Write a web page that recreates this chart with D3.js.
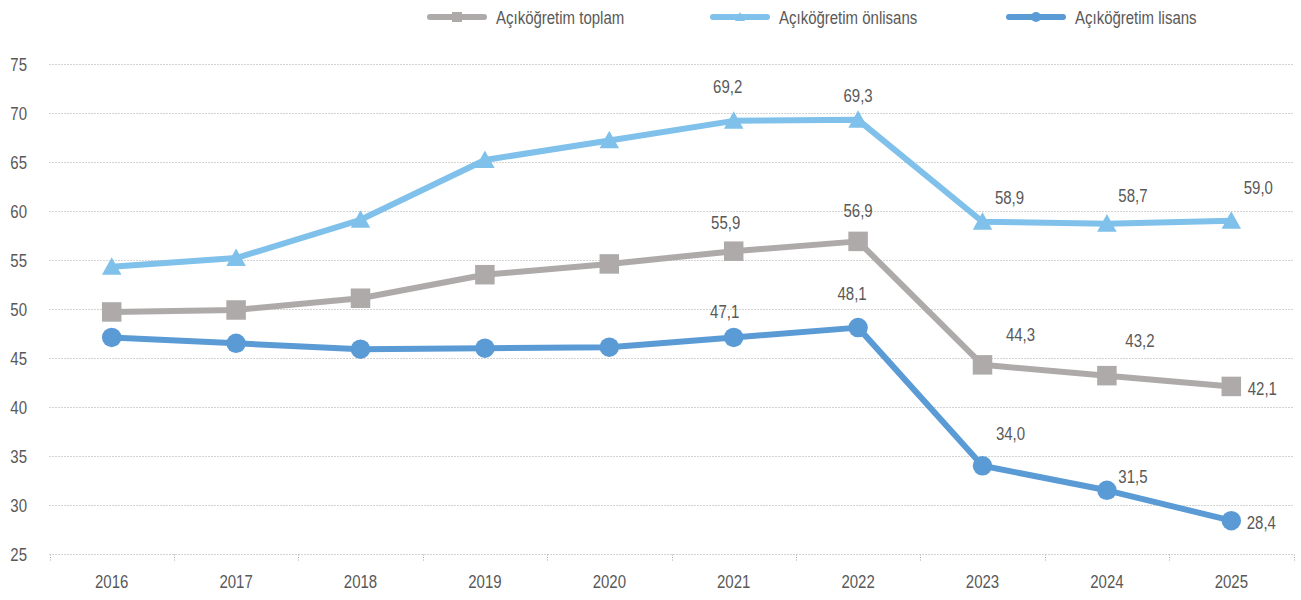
<!DOCTYPE html>
<html><head><meta charset="utf-8">
<script src="https://cdn.jsdelivr.net/npm/d3@7"></script>
<style>
html,body{margin:0;padding:0;background:#fff;}
text{font-family:"Liberation Sans Narrow","Arial Narrow","Liberation Sans",Arial,sans-serif;}
</style></head>
<body><svg id="c" width="1301" height="600"></svg>
<script>
const years = ["2016","2017","2018","2019","2020","2021","2022","2023","2024","2025"];
const toplam   = [49.7, 49.9, 51.1, 53.5, 54.6, 55.9, 56.9, 44.3, 43.2, 42.1];
const onlisans = [54.3, 55.2, 59.1, 65.2, 67.2, 69.2, 69.3, 58.9, 58.7, 59.0];
const lisans   = [47.1, 46.5, 45.9, 46.0, 46.1, 47.1, 48.1, 34.0, 31.5, 28.4];
const yTicks = [25,30,35,40,45,50,55,60,65,70,75];
const seriesNames = ["Açıköğretim toplam","Açıköğretim önlisans","Açıköğretim lisans"];
const labelFrom = 5; // labels shown from 2021 onwards

const svg = d3.select("#c");
const x = d3.scaleBand().domain(years).range([49.5, 1293.5]);
const y = d3.scaleLinear().domain([25,75]).range([554,64]);
const cx = d => x(d) + x.bandwidth()/2;

const textCol = "#595959";
const gridCol = "#a6a6a6";
const FS = 18.5, SX = 0.81;

function txt(g, px, py, str, anchor){
  return g.append("text")
    .attr("transform",`translate(${px},${py}) scale(${SX},1)`)
    .attr("dy","0.36em").attr("text-anchor",anchor||"middle")
    .attr("font-size",FS).attr("fill",textCol).text(str);
}

// gridlines
svg.append("g").selectAll("line").data(yTicks).join("line")
  .attr("x1",49.5).attr("x2",1293.5)
  .attr("y1",d=>Math.round(y(d))+0.5).attr("y2",d=>Math.round(y(d))+0.5)
  .attr("stroke",gridCol).attr("stroke-width",1).attr("stroke-dasharray","1,2");

// x tick marks at band boundaries
const bounds = years.map(d=>x(d)).concat([x.range()[1]]);
svg.append("g").selectAll("line").data(bounds).join("line")
  .attr("x1",d=>Math.round(d)+0.5).attr("x2",d=>Math.round(d)+0.5)
  .attr("y1",554.5).attr("y2",561)
  .attr("stroke",gridCol).attr("stroke-width",1).attr("stroke-dasharray","1,1.5");

// y labels
const gy = svg.append("g");
yTicks.forEach(d=>txt(gy, 27, y(d), d, "end"));

// x labels
const gx = svg.append("g");
years.forEach(d=>txt(gx, cx(d), 581, d, "middle"));

const series = [
  {name:seriesNames[0], vals:toplam,   color:"#aeaaaa", marker:"square"},
  {name:seriesNames[1], vals:onlisans, color:"#7fc1ea", marker:"triangle"},
  {name:seriesNames[2], vals:lisans,   color:"#5b9bd5", marker:"circle"}
];

// label offsets (layout config, per series / point from 2021)
const labelOffsets = [
  [[-8,-29],[0,-31],[38,-31],[33,-35],[31,2]],
  [[-6,-35],[0,-25],[27,-24],[26,-28],[27,-33]],
  [[-9,-26],[-6,-34],[28,-32],[26,-14],[30,2]]
];

const line = d3.line().x((d,i)=>cx(years[i])).y(d=>y(d));

function drawMarker(g, type, px, py, size, color){
  if(type==="square"){
    g.append("rect").attr("x",px-size/2).attr("y",py-size/2).attr("width",size).attr("height",size).attr("fill",color);
  } else if(type==="circle"){
    g.append("circle").attr("cx",px).attr("cy",py).attr("r",size/2).attr("fill",color);
  } else {
    const h = size*0.9;
    g.append("path").attr("d",`M${px},${py-h*0.55} L${px+size/2},${py+h*0.45} L${px-size/2},${py+h*0.45} Z`).attr("fill",color);
  }
}

series.forEach((s,si)=>{
  const g = svg.append("g");
  g.append("path").datum(s.vals).attr("d",line)
    .attr("fill","none").attr("stroke",s.color).attr("stroke-width",6)
    .attr("stroke-linejoin","round");
  s.vals.forEach((v,i)=>drawMarker(g, s.marker, cx(years[i]), y(v), 19.5, s.color));
  s.vals.forEach((v,i)=>{
    if(i<labelFrom) return;
    const o = labelOffsets[si][i-labelFrom];
    txt(g, cx(years[i])+o[0], y(v)+o[1], d3.format(".1f")(v).replace(".",","), "middle");
  });
});

// legend
const legX = [427, 710, 1006];
series.forEach((s,si)=>{
  const g = svg.append("g");
  const x0 = legX[si], x1 = x0+60, ly = 17;
  g.append("line").attr("x1",x0+3).attr("x2",x1-3).attr("y1",ly).attr("y2",ly)
    .attr("stroke",s.color).attr("stroke-width",6).attr("stroke-linecap","round");
  drawMarker(g, s.marker, (x0+x1)/2, ly, 10, s.color);
  txt(g, x1+9, ly, s.name, "start");
});
</script></body></html>
